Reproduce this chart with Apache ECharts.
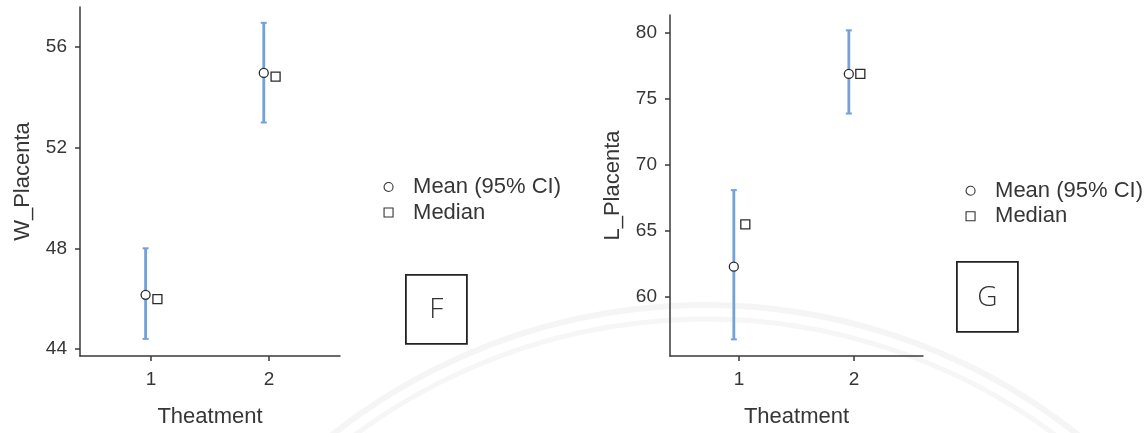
<!DOCTYPE html>
<html>
<head>
<meta charset="utf-8">
<title>Placenta by treatment</title>
<script src="https://cdn.jsdelivr.net/npm/echarts@6/dist/echarts.min.js"></script>
<style>
  html, body { margin: 0; padding: 0; background: #fff; }
  #chart { width: 1145px; height: 433px; }
</style>
</head>
<body>
<div id="chart"></div>
<script>
// Treatment groups on the x axis
const treatments = [1, 2];
const xTickLabels = [1, 2];

// Placenta weight: mean with 95% CI, and median
const wMean   = [46.15, 54.97];
const wLower  = [44.40, 53.00];
const wUpper  = [48.00, 56.96];
const wMedian = [45.98, 54.82];
const wTicks  = [44, 48, 52, 56];

// Placenta length: mean with 95% CI, and median
const lMean   = [62.3, 76.9];
const lLower  = [56.8, 73.9];
const lUpper  = [68.1, 80.2];
const lMedian = [65.5, 76.9];
const lTicks  = [60, 65, 70, 75, 80];

const MEAN_NAME = 'Mean (95% CI)';
const MEDIAN_NAME = 'Median';

// horizontal dodge between the mean and median markers
const MEAN_SHIFT = -0.045;
const MEDIAN_SHIFT = 0.055;

const TEXT = '#363636';
const AXIS = '#3a3a3a';
const CI_BLUE = '#76a0d9';
const FONT = '"Liberation Sans", Arial, sans-serif';

function errorBar(params, api) {
  const x = api.value(0);
  const top = api.coord([x, api.value(2)]);
  const bot = api.coord([x, api.value(1)]);
  const cap = 3;
  return {
    type: 'group',
    children: [
      { type: 'line', shape: { x1: top[0], y1: top[1], x2: bot[0], y2: bot[1] },
        style: { stroke: CI_BLUE, lineWidth: 2.8 } },
      { type: 'line', shape: { x1: top[0] - cap, y1: top[1], x2: top[0] + cap, y2: top[1] },
        style: { stroke: CI_BLUE, lineWidth: 2 } },
      { type: 'line', shape: { x1: bot[0] - cap, y1: bot[1], x2: bot[0] + cap, y2: bot[1] },
        style: { stroke: CI_BLUE, lineWidth: 2 } }
    ]
  };
}

function xAxisFor(gridIndex) {
  return {
    gridIndex, type: 'value', min: 0.4, max: 2.6,
    name: 'Theatment', nameLocation: 'middle', nameGap: 50,
    nameTextStyle: { color: TEXT, fontSize: 22, fontFamily: FONT },
    axisLine: { show: true, lineStyle: { color: AXIS, width: 1.5 } },
    axisTick: { show: true, length: 5, lineStyle: { color: AXIS, width: 1.5 }, customValues: xTickLabels },
    axisLabel: { color: TEXT, fontSize: 19, fontFamily: FONT, margin: 14, customValues: xTickLabels },
    splitLine: { show: false }
  };
}

function yAxisFor(gridIndex, name, min, max, ticks) {
  return {
    gridIndex, type: 'value', min, max,
    name, nameLocation: 'middle', nameGap: 46, nameRotate: 90,
    nameTextStyle: { color: TEXT, fontSize: 22, fontFamily: FONT },
    axisLine: { show: true, lineStyle: { color: AXIS, width: 1.5 } },
    axisTick: { show: true, length: 5, lineStyle: { color: AXIS, width: 1.5 }, customValues: ticks },
    axisLabel: { color: TEXT, fontSize: 19, fontFamily: FONT, margin: 13, customValues: ticks },
    splitLine: { show: false }
  };
}

function seriesFor(idx, mean, lower, upper, median) {
  return [
    {
      type: 'custom', xAxisIndex: idx, yAxisIndex: idx, renderItem: errorBar,
      encode: { x: 0, y: [1, 2] }, z: 2, silent: true,
      data: treatments.map((t, i) => [t + MEAN_SHIFT, lower[i], upper[i]])
    },
    {
      type: 'scatter', name: MEAN_NAME, xAxisIndex: idx, yAxisIndex: idx,
      symbol: 'circle', symbolSize: 9, z: 3,
      itemStyle: { color: '#fff', borderColor: '#2b2b2b', borderWidth: 1.3, opacity: 1 },
      data: treatments.map((t, i) => [t + MEAN_SHIFT, mean[i]])
    },
    {
      type: 'scatter', name: MEDIAN_NAME, xAxisIndex: idx, yAxisIndex: idx,
      symbol: 'rect', symbolSize: 9, z: 3,
      itemStyle: { color: '#fff', borderColor: '#2b2b2b', borderWidth: 1.3, opacity: 1 },
      data: treatments.map((t, i) => [t + MEDIAN_SHIFT, median[i]])
    }
  ];
}

function legendAt(left, top) {
  const icon = { color: '#fff', borderColor: '#333', borderWidth: 1.1 };
  return {
    orient: 'vertical', left, top, padding: 0,
    itemWidth: 9, itemHeight: 9, itemGap: 3.5,
    selectedMode: false,
    textStyle: { color: TEXT, fontSize: 22, fontFamily: FONT, padding: [0, 0, 0, 15] },
    data: [
      { name: MEAN_NAME, icon: 'circle', itemStyle: icon },
      { name: MEDIAN_NAME, icon: 'rect', itemStyle: icon }
    ]
  };
}

function panelTag(letter, x, y, w, h) {
  return {
    type: 'group', left: x, top: y,
    children: [
      { type: 'rect', shape: { x: 0, y: 0, width: w, height: h },
        style: { fill: '#fff', stroke: '#222', lineWidth: 1.8 } },
      { type: 'text', x: w / 2, y: h / 2 + 1,
        style: { text: letter, fill: '#333', font: '300 28px "Open Sans", sans-serif',
                 align: 'center', verticalAlign: 'middle' } }
    ]
  };
}

const chart = echarts.init(document.getElementById('chart'), null, { renderer: 'canvas' });

chart.setOption({
  backgroundColor: '#fff',
  animation: false,
  grid: [
    { left: 80, top: 7, width: 260, height: 350 },
    { left: 670, top: 15, width: 253, height: 342 }
  ],
  xAxis: [xAxisFor(0), xAxisFor(1)],
  yAxis: [
    yAxisFor(0, 'W_Placenta', 43.72, 57.59, wTicks),
    yAxisFor(1, 'L_Placenta', 55.54, 81.36, lTicks)
  ],
  legend: [legendAt(383.5, 176), legendAt(965.5, 179.7)],
  graphic: [
    // faint seal arcs in the background
    { type: 'arc', z: -10, silent: true,
      shape: { cx: 705, cy: 905, r: 600, startAngle: Math.PI * 1.1, endAngle: Math.PI * 1.9 },
      style: { stroke: '#f5f5f5', lineWidth: 6, fill: null } },
    { type: 'arc', z: -10, silent: true,
      shape: { cx: 705, cy: 905, r: 586, startAngle: Math.PI * 1.1, endAngle: Math.PI * 1.9 },
      style: { stroke: '#f6f6f6', lineWidth: 5, fill: null } },
    panelTag('F', 405, 274, 61, 69),
    panelTag('G', 956, 261, 61, 70)
  ],
  series: [
    ...seriesFor(0, wMean, wLower, wUpper, wMedian),
    ...seriesFor(1, lMean, lLower, lUpper, lMedian)
  ]
});
</script>
</body>
</html>
